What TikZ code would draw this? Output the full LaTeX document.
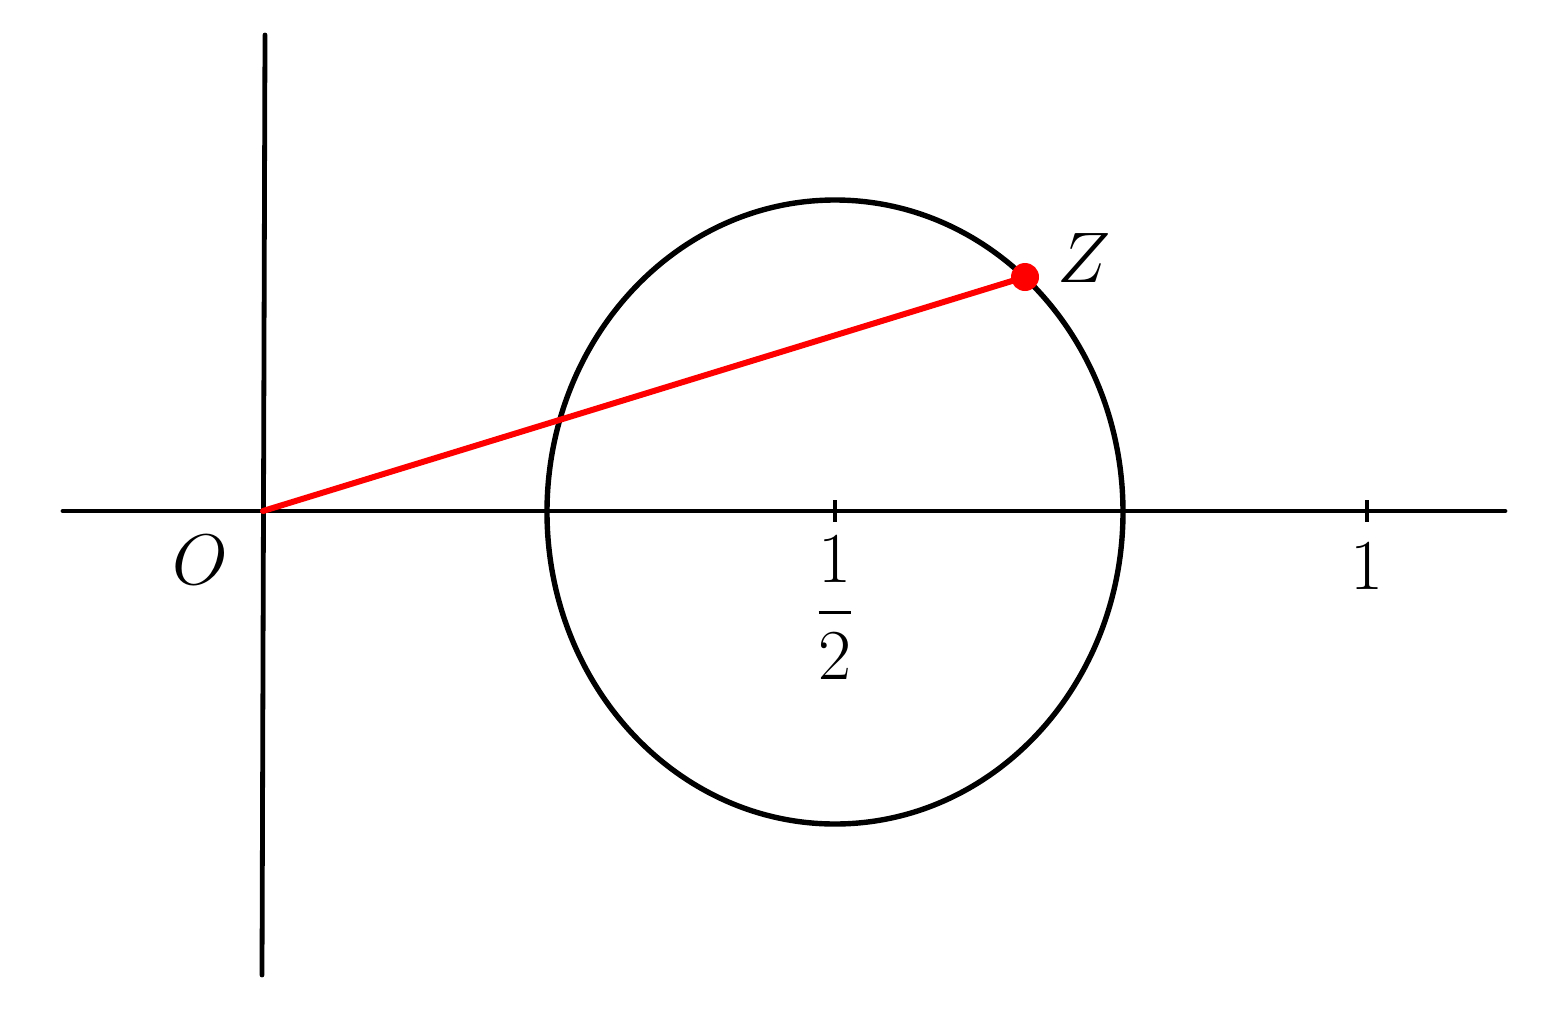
\documentclass[tikz,border=0pt]{standalone}
\usepackage{amsmath}
\begin{document}
\begin{tikzpicture}[x=0.5pt,y=-0.5pt,
  axis/.style={line width=2.4pt,line cap=round},
  curve/.style={line width=2.7pt},
  radius line/.style={line width=3pt,red,line cap=round},
  lbl/.style={inner sep=0pt,font=\Huge,scale=1.44}]
\useasboundingbox (0,0) rectangle (1544,1019);
\coordinate (xl) at (63,511);
\coordinate (xr) at (1505,511);
\coordinate (yt) at (265,35);
\coordinate (yb) at (262,975);
\coordinate (O) at (263,511);
\coordinate (C) at (835,512);
\draw[axis] (xl) -- (xr);
\draw[axis] (yt) -- (yb);
\draw[curve] (C) ellipse [x radius=288, y radius=312];
\coordinate (t1) at (835,500); \coordinate (t1b) at (835,522);
\coordinate (t2) at (1367,500); \coordinate (t2b) at (1367,522);
\draw[line width=1.7pt] (t1) -- (t1b);
\draw[line width=1.7pt] (t2) -- (t2b);
\node[circle,fill=red,inner sep=0pt,minimum size=14pt] (Z) at (1025,277) {};
\draw[radius line] (O) -- (Z.center);
\node[lbl] (lO) at (200,560) {$O$};
\node[lbl] (lZ) at (1084,258) {$Z$};
\node[lbl] (lhalf) at (835,608) {$\dfrac{1}{2}$};
\node[lbl] (lone) at (1367,566) {$1$};
\end{tikzpicture}
\end{document}
